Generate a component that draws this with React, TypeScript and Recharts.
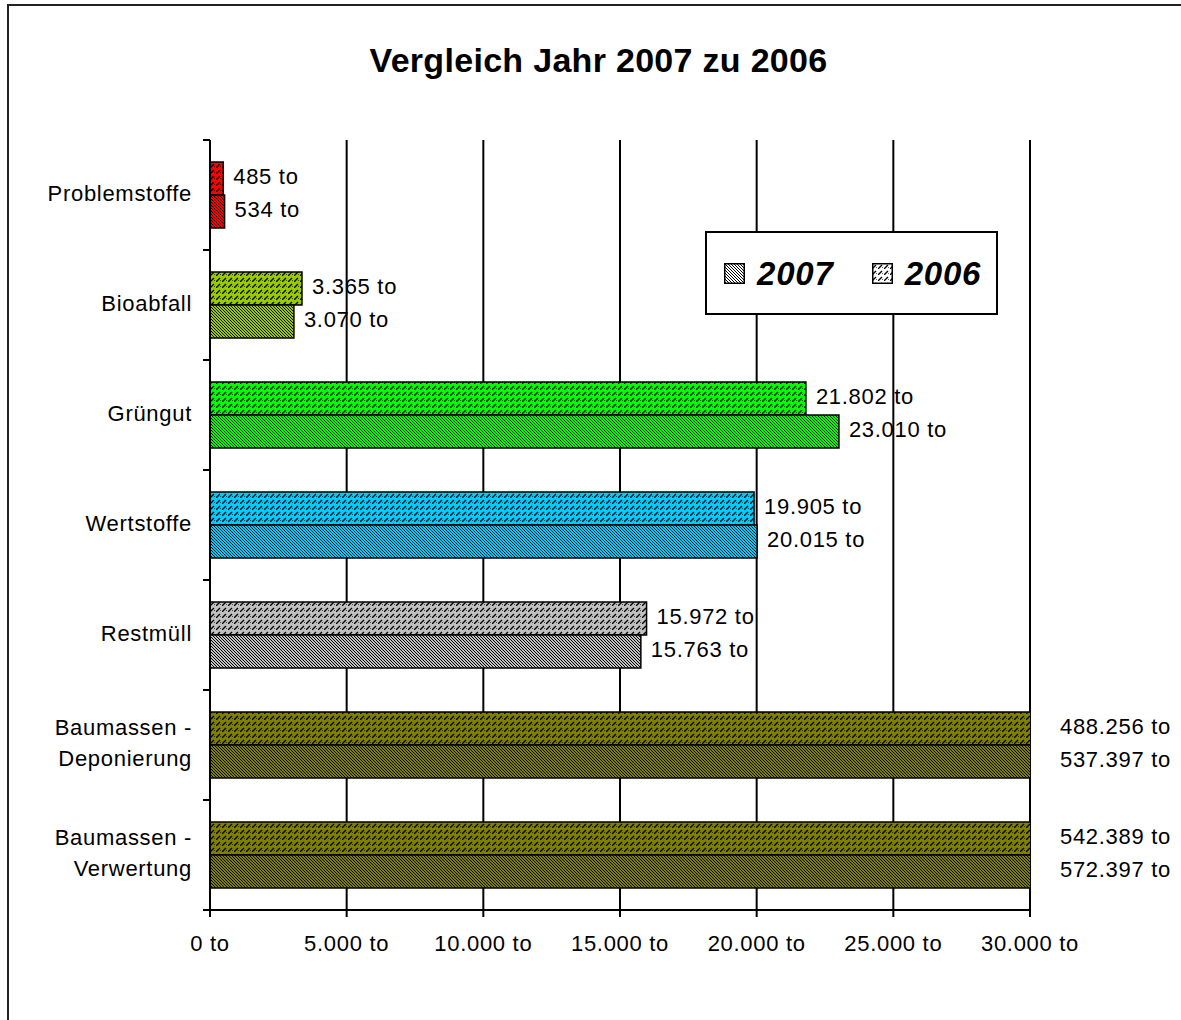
import { Bar, BarChart, CartesianGrid, Cell, LabelList, Legend, XAxis, YAxis } from "recharts";

const categories = [
  "Problemstoffe",
  "Bioabfall",
  "Grüngut",
  "Wertstoffe",
  "Restmüll",
  "Baumassen -\nDeponierung",
  "Baumassen -\nVerwertung",
];
const tons2006 = [485, 3365, 21802, 19905, 15972, 488256, 542389];
const tons2007 = [534, 3070, 23010, 20015, 15763, 537397, 572397];
const xTicks = [0, 5000, 10000, 15000, 20000, 25000, 30000];
const legendOrder = ["2007", "2006"];

// one base colour per category, hatch drawn on top
const PALETTE = ["#ff0000", "#99cc00", "#00ff00", "#00ccff", "#c0c0c0", "#808000", "#808000"];

const FONT = "'Liberation Sans', Arial, sans-serif";
const SPACING = 0.7;
const W = 1181;
const H = 1020;
const MARGIN = { top: 140, right: 151, bottom: 50, left: 10 };
const PLOT_RIGHT = W - MARGIN.right;
const PLOT_H = H - MARGIN.top - MARGIN.bottom - 60;
const TICK_SIZE = 7;
const TICK_MARGIN = 11;

const data = categories.map((name, i) => ({ name, y2006: tons2006[i], y2007: tons2007[i] }));

const fmtTons = (v: number) => `${String(v).replace(/\B(?=(\d{3})+(?!\d))/g, ".")} to`;

function Patterns() {
  const weave = (id: string, bg: string) => (
    <pattern key={id} id={id} width={6} height={6} patternUnits="userSpaceOnUse">
      <rect width={6} height={6} fill={bg} />
      <path d="M0,6 L4,2" stroke="#000" strokeWidth={1.3} />
      <rect x={4} y={4} width={1} height={1} fill="#000" opacity={0.6} />
    </pattern>
  );
  const dense = (id: string, bg: string) => (
    <pattern key={id} id={id} width={3} height={3} patternUnits="userSpaceOnUse">
      <rect width={3} height={3} fill={bg} />
      <path d="M-1,-1 L4,4 M-1,2 L1,4 M2,-1 L4,1" stroke="#000" strokeWidth={1} />
    </pattern>
  );
  return (
    <svg width={0} height={0} style={{ position: "absolute" }}>
      <defs>
        {PALETTE.map((c, i) => weave(`p06-${i}`, c))}
        {PALETTE.map((c, i) => dense(`p07-${i}`, c))}
        {weave("leg-2006", "#ffffff")}
        {dense("leg-2007", "#ffffff")}
      </defs>
    </svg>
  );
}

function CategoryTick(props: any) {
  const { x, y, payload, index } = props;
  const lines = String(payload.value).split("\n");
  const band = PLOT_H / categories.length;
  const lh = 31;
  const x0 = x + TICK_MARGIN;
  return (
    <g>
      <line x1={x0} x2={x0 + TICK_SIZE} y1={y - band / 2} y2={y - band / 2} stroke="#000" strokeWidth={2} />
      {index === categories.length - 1 && (
        <line x1={x0} x2={x0 + TICK_SIZE} y1={y + band / 2} y2={y + band / 2} stroke="#000" strokeWidth={2} />
      )}
      {lines.map((t, i) => (
        <text
          key={i}
          x={x}
          y={y - 2 + (i - (lines.length - 1) / 2) * lh}
          textAnchor="end"
          dominantBaseline="central"
          fontSize={22}
          letterSpacing={SPACING}
          fontFamily={FONT}
          fill="#000"
        >
          {t}
        </text>
      ))}
    </g>
  );
}

function ValueLabel(props: any) {
  const vb = props.viewBox ?? props;
  const x = Number(vb.x);
  const w = Number(vb.width);
  const y = Number(vb.y);
  const h = Number(vb.height);
  const end = x + w;
  const lx = end > PLOT_RIGHT ? PLOT_RIGHT + 30 : end + 10;
  return (
    <text
      x={lx}
      y={y + h / 2 - 2}
      dominantBaseline="central"
      fontSize={22}
      letterSpacing={SPACING}
      fontFamily={FONT}
      fill="#000"
    >
      {fmtTons(Number(props.value))}
    </text>
  );
}

function LegendBox() {
  return (
    <div
      style={{
        boxSizing: "border-box",
        width: 293,
        height: 84,
        border: "2px solid #000",
        background: "#fff",
        display: "flex",
        alignItems: "center",
        paddingLeft: 17,
        fontFamily: FONT,
      }}
    >
      {legendOrder.map((yr, i) => (
        <div key={yr} style={{ display: "flex", alignItems: "center", marginLeft: i ? 38 : 0 }}>
          <svg width={21} height={21} style={{ display: "block" }}>
            <rect x={0.75} y={0.75} width={19.5} height={19.5} fill={`url(#leg-${yr})`} stroke="#000" strokeWidth={1.5} />
          </svg>
          <span style={{ marginLeft: 12, fontSize: 33, lineHeight: 1, fontWeight: "bold", fontStyle: "italic", letterSpacing: 0.8 }}>
            {yr}
          </span>
        </div>
      ))}
    </div>
  );
}

export default function App() {
  return (
    <div style={{ position: "absolute", left: 0, top: 0, width: W, height: H, overflow: "hidden", background: "#fff" }}>
      <Patterns />
      <div
        style={{
          position: "absolute",
          left: 7,
          top: 4,
          width: 1200,
          height: 1040,
          border: "2px solid #222",
        }}
      />
      <div
        style={{
          position: "absolute",
          left: 0,
          top: 43,
          width: 1197,
          textAlign: "center",
          fontFamily: FONT,
          fontWeight: "bold",
          fontSize: 34,
          lineHeight: 1,
          letterSpacing: 0.3,
        }}
      >
        Vergleich Jahr 2007 zu 2006
      </div>
      <div style={{ position: "absolute", left: 0, top: 0 }}>
        <BarChart width={W} height={H} data={data} layout="vertical" margin={MARGIN} barCategoryGap="20%" barGap={0}>
          <CartesianGrid vertical horizontal={false} stroke="#000" strokeWidth={2} />
          <XAxis
            type="number"
            domain={[0, 30000]}
            ticks={xTicks}
            allowDataOverflow
            tickFormatter={fmtTons}
            axisLine={{ stroke: "#000", strokeWidth: 2 }}
            tickLine={{ stroke: "#000", strokeWidth: 2 }}
            tickSize={TICK_SIZE}
            tickMargin={18}
            height={60}
            tick={{ fontSize: 22, fontFamily: FONT, fill: "#000", letterSpacing: SPACING }}
          />
          <XAxis
            xAxisId="top"
            orientation="top"
            type="number"
            domain={[0, 30000]}
            height={0}
            tick={false}
            tickLine={false}
            axisLine={{ stroke: "#000", strokeWidth: 2 }}
          />
          <YAxis
            type="category"
            dataKey="name"
            width={200}
            interval={0}
            axisLine={{ stroke: "#000", strokeWidth: 2 }}
            tickLine={false}
            tickSize={TICK_SIZE}
            tickMargin={TICK_MARGIN}
            tick={<CategoryTick />}
          />
          <Legend
            layout="horizontal"
            verticalAlign="middle"
            align="center"
            content={() => <LegendBox />}
            wrapperStyle={{ left: 705, top: 231, width: "auto" }}
          />
          <Bar dataKey="y2006" name="2006" isAnimationActive={false} stroke="#000" strokeWidth={1.5}>
            {data.map((_, i) => (
              <Cell key={i} fill={`url(#p06-${i})`} />
            ))}
            <LabelList dataKey="y2006" content={<ValueLabel />} />
          </Bar>
          <Bar dataKey="y2007" name="2007" isAnimationActive={false} stroke="#000" strokeWidth={1.5}>
            {data.map((_, i) => (
              <Cell key={i} fill={`url(#p07-${i})`} />
            ))}
            <LabelList dataKey="y2007" content={<ValueLabel />} />
          </Bar>
        </BarChart>
      </div>
    </div>
  );
}
